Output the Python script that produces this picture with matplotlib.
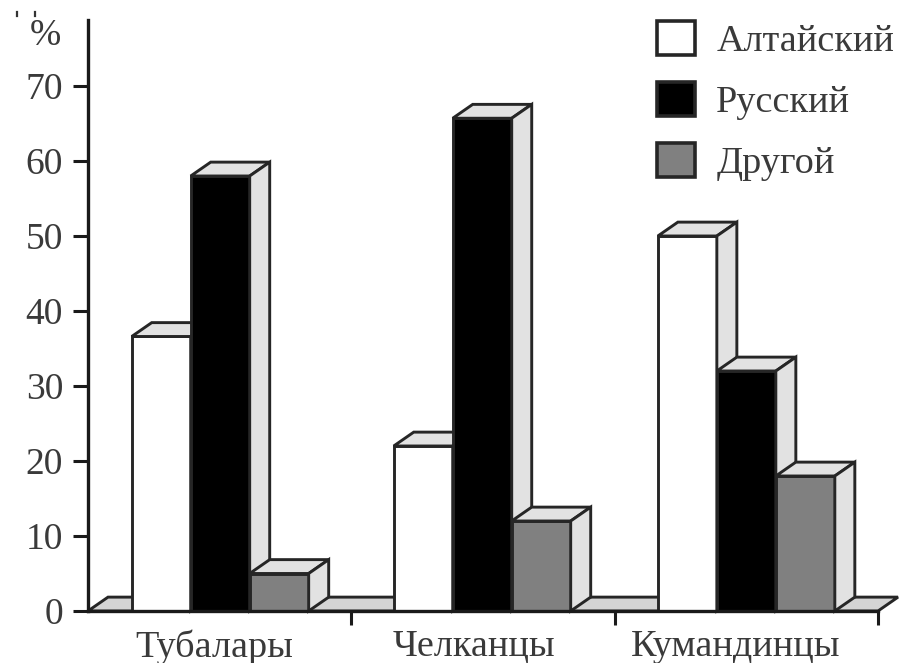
import matplotlib
matplotlib.use("Agg")
import matplotlib.pyplot as plt
from matplotlib.patches import Patch, Polygon

plt.rcParams["font.family"] = ["Liberation Serif", "DejaVu Serif"]

groups = ["Тубалары", "Челканцы", "Кумандинцы"]
series_names = ["Алтайский", "Русский", "Другой"]
altai = [36.6, 22, 50]
russian = [58, 65.7, 32]
other = [5, 12, 18]
y_ticks = [0, 10, 20, 30, 40, 50, 60, 70]

WIDTH, HEIGHT = 900, 663
EDGE = "#262626"
TEXT = "#3a3a3a"
SIDE = "#e2e2e2"
FACE = ["white", "black", "#808080"]

BAR_W = 0.224
DX = 0.076
DY = 1.85
GROUP_SHIFT = [0.002, -0.003, 0]
LABEL_X = [0.478, 1.465, 2.46]


def draw_bar(ax, x, value, color):
    # front face, then the top and the right side to fake the 3d look
    ax.bar(x, value, BAR_W, align="edge", color=color, edgecolor=EDGE, linewidth=2.1, zorder=3, clip_on=False)
    top = [(x, value), (x + DX, value + DY), (x + BAR_W + DX, value + DY), (x + BAR_W, value)]
    side = [(x + BAR_W, 0), (x + BAR_W + DX, DY), (x + BAR_W + DX, value + DY), (x + BAR_W, value)]
    for pts in (top, side):
        ax.add_patch(Polygon(pts, closed=True, facecolor=SIDE, edgecolor=EDGE, linewidth=2.1, zorder=3, clip_on=False))


fig = plt.figure(figsize=(WIDTH / 100, HEIGHT / 100), dpi=100)
ax = fig.add_axes([88 / WIDTH, 1 - 611 / HEIGHT, 790 / WIDTH, 591 / HEIGHT])
ax.set_xlim(0, 3)
ax.set_ylim(0, 78.8)

floor = [(0, 0), (DX, DY), (3 + DX, DY), (3, 0)]
ax.add_patch(Polygon(floor, closed=True, facecolor="#d4d4d4", edgecolor=EDGE, linewidth=2.1, zorder=2, clip_on=False))

for i in range(len(groups)):
    left = i + 0.5 - 1.5 * BAR_W + GROUP_SHIFT[i]
    for j, values in enumerate([altai, russian, other]):
        draw_bar(ax, left + j * BAR_W, values[i], FACE[j])

for side in ("top", "right"):
    ax.spines[side].set_visible(False)
for side in ("left", "bottom"):
    ax.spines[side].set_linewidth(2.4)
    ax.spines[side].set_color("#1a1a1a")
    ax.spines[side].set_zorder(5)

ax.set_yticks(y_ticks)
ax.tick_params(axis="y", length=11, width=2.2, color="#1a1a1a", labelsize=27, labelcolor=TEXT, pad=7)
ax.set_xticks([1, 2, 3])
ax.set_xticklabels([])
ax.set_xticks(LABEL_X, minor=True)
ax.set_xticklabels(groups, minor=True)
ax.tick_params(axis="x", which="major", length=10, width=2.2, color="#1a1a1a")
ax.tick_params(axis="x", which="minor", length=0, labelsize=27.5, labelcolor=TEXT, pad=13)

fig.text(45 / WIDTH, 1 - 36 / HEIGHT, "%", fontsize=27, color=TEXT, ha="center", va="center")

# bits of cut off text at the very top of the scan
for px in (17, 35):
    fig.add_artist(plt.Line2D([px / WIDTH] * 2, [1 - 12 / HEIGHT, 1 - 16 / HEIGHT], color="#333333", linewidth=1.6))

handles = [Patch(facecolor=c, edgecolor=EDGE, linewidth=2.6) for c in FACE]
ax.legend(handles, series_names, loc="upper left", bbox_to_anchor=(657 / WIDTH, 1 - 21 / HEIGHT),
          bbox_transform=fig.transFigure, frameon=False, fontsize=27.5, labelcolor=TEXT,
          handlelength=1.0, handleheight=1.0, handletextpad=0.55, labelspacing=0.6,
          borderpad=0, borderaxespad=0)

fig.savefig("out.png", dpi=100)
